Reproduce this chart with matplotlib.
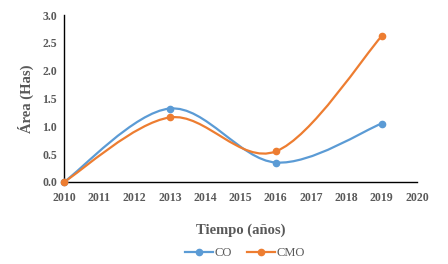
import numpy as np
import matplotlib
matplotlib.use("Agg")
import matplotlib.pyplot as plt
from matplotlib.path import Path
from matplotlib.patches import PathPatch
from matplotlib.lines import Line2D

years = [2010, 2013, 2016, 2019]
co = [0.0, 1.32, 0.35, 1.05]
cmo = [0.0, 1.16, 0.55, 2.62]
xticks = list(range(2010, 2021))
yticks = [0.0, 0.5, 1.0, 1.5, 2.0, 2.5, 3.0]

BLUE = "#5B9BD5"
ORANGE = "#ED7D31"
GRAY = "#595959"
FONT = "Liberation Serif"

fig = plt.figure(figsize=(4.48, 2.64), dpi=100)
ax = fig.add_axes([64/448, 1-182/264, (417-64)/448, (182-15)/264])


def smooth_path(x, y):
    x = np.asarray(x, float)
    y = np.asarray(y, float)
    n = len(x)
    verts = [(x[0], y[0])]
    codes = [Path.MOVETO]
    for i in range(n - 1):
        x0, y0 = (x[i-1], y[i-1]) if i > 0 else (x[i], y[i])
        x3, y3 = (x[i+2], y[i+2]) if i + 2 < n else (x[i+1], y[i+1])
        c1 = (x[i] + (x[i+1] - x0) / 6, y[i] + (y[i+1] - y0) / 6)
        c2 = (x[i+1] - (x3 - x[i]) / 6, y[i+1] - (y3 - y[i]) / 6)
        verts += [c1, c2, (x[i+1], y[i+1])]
        codes += [Path.CURVE4] * 3
    return Path(verts, codes)


for vals, col in [(co, BLUE), (cmo, ORANGE)]:
    p = PathPatch(smooth_path(years, vals), facecolor="none", edgecolor=col,
                  lw=1.6, transform=ax.transData, capstyle="round", zorder=2)
    ax.add_patch(p)
    ax.plot(years, vals, ls="none", marker="o", ms=4.5, color=col, zorder=3,
            clip_on=False)

ax.set_xlim(2010, 2020)
ax.set_ylim(0, 3.0)
ax.set_xticks(xticks)
ax.set_yticks(yticks)
ax.set_xticklabels([str(t) for t in xticks], fontfamily=FONT, fontweight="bold",
                   fontsize=8.5, color=GRAY)
ax.set_yticklabels([f"{t:.1f}" for t in yticks], fontfamily=FONT, fontweight="bold",
                   fontsize=8.5, color=GRAY)
ax.tick_params(axis="x", length=0, pad=7)
ax.tick_params(axis="y", length=0, pad=5)
for s in ["top", "right"]:
    ax.spines[s].set_visible(False)
for s in ["left", "bottom"]:
    ax.spines[s].set_color("black")
    ax.spines[s].set_linewidth(1.0)

ax.set_xlabel("Tiempo (años)", fontfamily=FONT, fontweight="bold", fontsize=10.5,
              color=GRAY, labelpad=14)
ax.set_ylabel("Área (Has)", fontfamily=FONT, fontweight="bold", fontsize=10.5,
              color=GRAY, labelpad=6)

handles = [Line2D([], [], color=BLUE, lw=1.6, marker="o", ms=4.5),
           Line2D([], [], color=ORANGE, lw=1.6, marker="o", ms=4.5)]
leg = fig.legend(handles, ["CO", "CMO"], loc="center", bbox_to_anchor=(245/448, 1-253/264),
                 ncol=2, frameon=False, prop={"family": FONT, "size": 9},
                 handlelength=2.2, columnspacing=1.2, handletextpad=0.15)
for t in leg.get_texts():
    t.set_color(GRAY)

fig.savefig("out.png", dpi=100)
